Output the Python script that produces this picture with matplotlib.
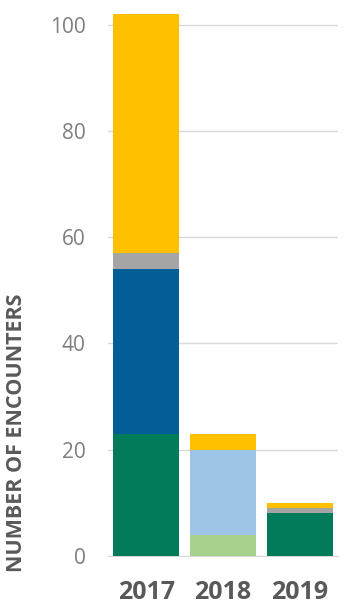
import matplotlib
matplotlib.use("Agg")
import matplotlib.pyplot as plt
import numpy as np

years = ["2017", "2018", "2019"]
# stacked segments, bottom to top
dark_green = [23, 0, 8]
light_green = [0, 4, 0]
blue = [31, 0, 0]
light_blue = [0, 16, 0]
gray = [3, 0, 1]
yellow = [45, 3, 1]

series = [
    (dark_green, "#017B5A"),
    (light_green, "#A9D18E"),
    (blue, "#035E97"),
    (light_blue, "#9DC3E6"),
    (gray, "#A5A5A5"),
    (yellow, "#FFC000"),
]
yticks = [0, 20, 40, 60, 80, 100]

plt.rcParams["font.family"] = ["Open Sans", "DejaVu Sans"]

W, H = 346, 606
fig = plt.figure(figsize=(W / 100, H / 100), dpi=100)
ax = fig.add_axes([108 / W, 50 / H, 230 / W, (556 - 8.7) / H])

x = np.arange(len(years))
bottom = np.zeros(len(years))
for vals, color in series:
    v = np.array(vals, dtype=float)
    ax.bar(x, v, bottom=bottom, width=0.86, color=color, zorder=3, linewidth=0)
    bottom += v

ax.set_xlim(-0.5, 2.5)
ax.set_ylim(0, 103)
ax.set_yticks(yticks)
ax.set_yticklabels([str(t) for t in yticks], fontsize=15, color="#7F7F7F")
ax.set_xticks(x)
ax.set_xticklabels(years, fontsize=18, fontweight="bold", color="#595959")
ax.tick_params(axis="y", length=0, pad=16)
ax.tick_params(axis="x", length=0, pad=17)
ax.yaxis.grid(True, color="#D9D9D9", linewidth=1, zorder=0)
for s in ["top", "right", "left"]:
    ax.spines[s].set_visible(False)
ax.spines["bottom"].set_color("#D9D9D9")

fig.text(17 / W, 1 - 433 / H, "NUMBER OF ENCOUNTERS", rotation=90,
         ha="center", va="center", fontsize=15.5, fontweight="bold", color="#595959")

fig.savefig("out.png", dpi=100)
